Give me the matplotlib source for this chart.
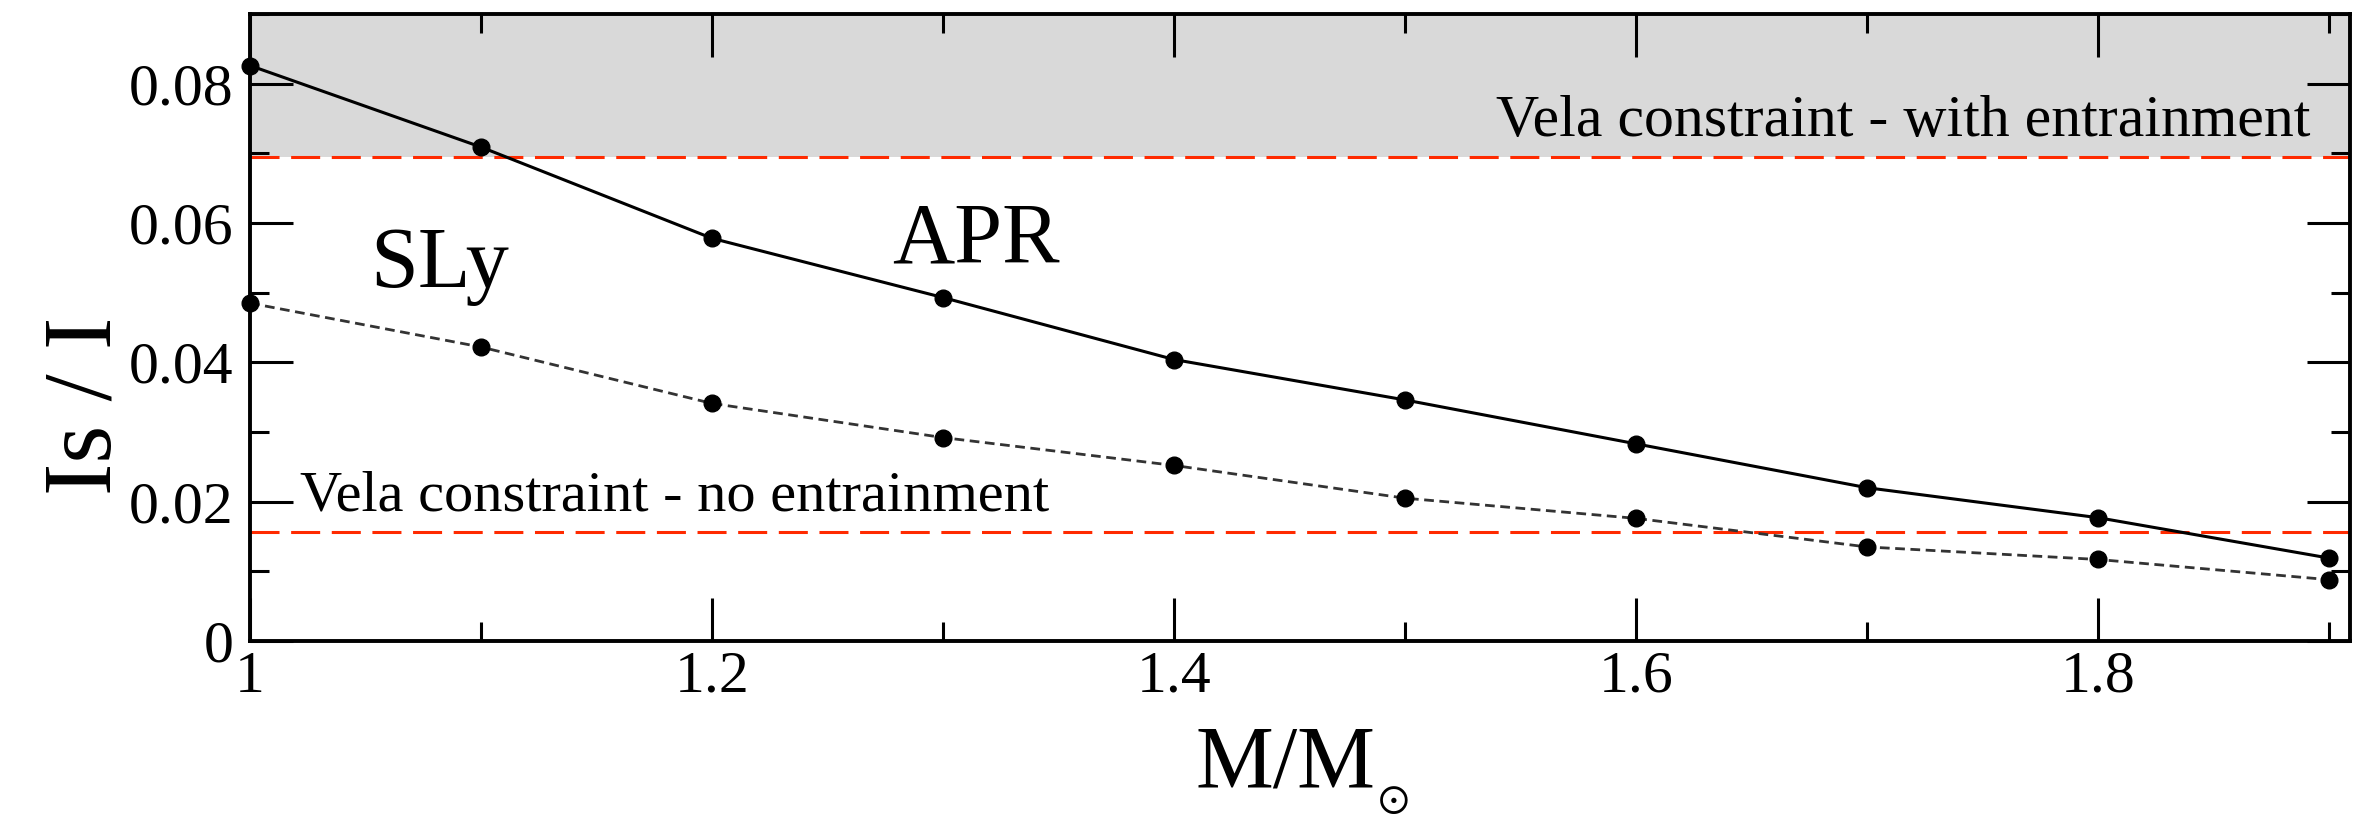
import matplotlib
matplotlib.use("Agg")
import matplotlib.pyplot as plt
from matplotlib.ticker import FixedLocator, MultipleLocator

plt.rcParams['font.family'] = ['Liberation Serif', 'DejaVu Serif']
plt.rcParams['mathtext.fontset'] = 'stix'

# ---- data ----
mass = [1.0, 1.1, 1.2, 1.3, 1.4, 1.5, 1.6, 1.7, 1.8, 1.9]
apr = [0.0826, 0.0709, 0.0578, 0.0493, 0.0404, 0.0346, 0.0283, 0.0220, 0.0177, 0.0119]
sly = [0.0485, 0.0422, 0.0341, 0.0292, 0.0252, 0.0205, 0.0176, 0.0135, 0.0117, 0.0088]
vela_with = 0.0695
vela_no = 0.0157
xticks = [1.0, 1.2, 1.4, 1.6, 1.8]
xticklabels = ["1", "1.2", "1.4", "1.6", "1.8"]
yticks = [0.0, 0.02, 0.04, 0.06, 0.08]
yticklabels = ["0", "0.02", "0.04", "0.06", "0.08"]

W, H, DPI = 2357, 819, 100
fig = plt.figure(figsize=(W / DPI, H / DPI), dpi=DPI)
ax = fig.add_axes([250 / W, (H - 641) / H, 2100 / W, 627 / H])

ax.set_xlim(1.0, 1.909)
ax.set_ylim(0.0, 0.09)

ax.axhspan(vela_with, 0.09, color='#d9d9d9', zorder=0, lw=0)
ax.axhline(vela_with, color='#ff2a00', lw=2.2, dashes=(9.5, 3.8), zorder=1)
ax.axhline(vela_no, color='#ff2a00', lw=2.2, dashes=(9.5, 3.8), zorder=1)

ax.plot(mass, apr, color='black', lw=2.2, marker='o', ms=12, clip_on=False, zorder=3)
ax.plot(mass, sly, color='#333333', lw=2.0, dashes=(3.5, 2.0), marker='o', ms=12,
        mfc='black', mec='black', clip_on=False, zorder=3)

ax.text(1.892, 0.0725, "Vela constraint - with entrainment", fontsize=43,
        ha='right', va='baseline', zorder=4)
ax.text(1.0216, 0.0188, "Vela constraint - no entrainment", fontsize=42,
        ha='left', va='baseline', zorder=4)
ax.text(1.052, 0.0508, "SLy", fontsize=62, ha='left', va='baseline', zorder=4)
ax.text(1.278, 0.0543, "APR", fontsize=62, ha='left', va='baseline', zorder=4)

ax.xaxis.set_major_locator(FixedLocator(xticks))
ax.set_xticklabels(xticklabels)
ax.xaxis.set_minor_locator(FixedLocator([1.1, 1.3, 1.5, 1.7, 1.9]))
ax.yaxis.set_major_locator(FixedLocator(yticks))
ax.set_yticklabels(yticklabels)
ax.yaxis.set_minor_locator(MultipleLocator(0.01))

ax.tick_params(which='both', direction='in', top=True, right=True, width=2.2, colors='black')
ax.tick_params(which='major', length=31)
ax.tick_params(which='minor', length=14)
ax.tick_params(axis='x', which='major', labelsize=43, pad=7)
ax.tick_params(axis='y', which='major', labelsize=43, pad=12)
for s in ax.spines.values():
    s.set_linewidth(2.8)

fig.text(87 / W, (H - 406) / H, "Is / I", rotation=90, fontsize=70,
         ha='center', va='center')
fig.text(1195 / W, (H - 786) / H, "M/M", fontsize=63,
         ha='left', va='baseline')
fig.text(1393 / W, (H - 801) / H, r"$\odot$", fontsize=30,
         ha='center', va='center')

fig.savefig("out.png", dpi=DPI)
